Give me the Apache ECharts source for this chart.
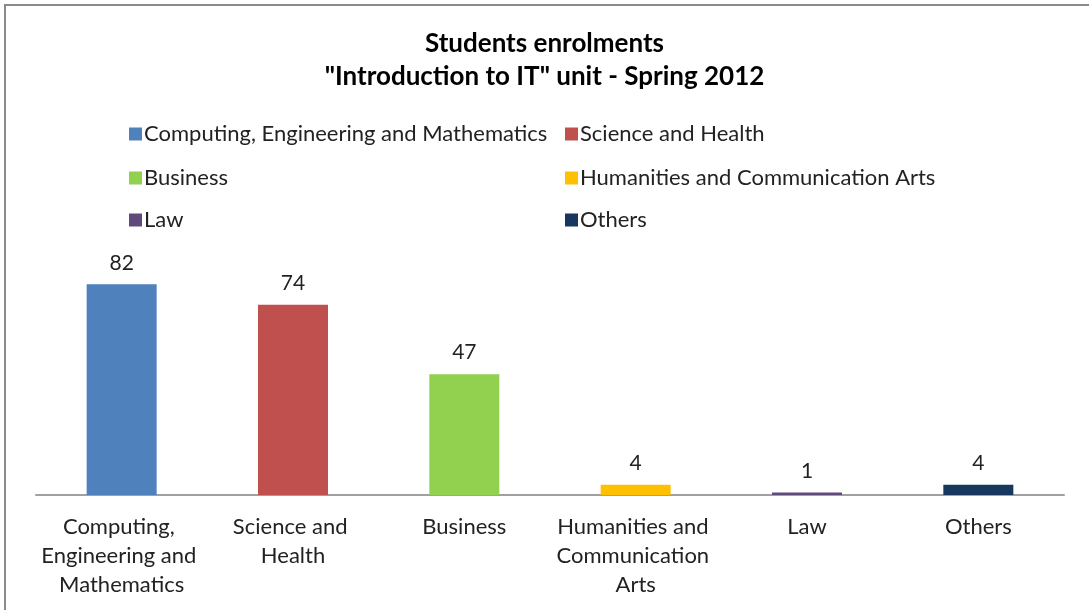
<!DOCTYPE html>
<html><head><meta charset="utf-8">
<script src="https://cdn.jsdelivr.net/npm/echarts@6/dist/echarts.min.js"></script>
<style>html,body{margin:0;padding:0;background:#fff}#c{width:1089px;height:610px}</style>
</head><body><div id="c"></div>
<script>
const categories = ["Computing, Engineering and Mathematics", "Science and Health", "Business", "Humanities and Communication Arts", "Law", "Others"];
const values = [82, 74, 47, 4, 1, 4];
const colors = ["#4F81BD", "#C0504D", "#92D050", "#FFC000", "#604A7B", "#17375E"];
const titleLines = ["Students enrolments", "\"Introduction to IT\" unit - Spring 2012"];

const FONT = "Lato";
const legendPos = [[124,118],[560,118],[124,162],[560,162],[124,204],[560,204]];

const series = categories.map((name, i) => ({
  name: name,
  type: 'bar',
  stack: 'all',
  barWidth: 70,
  itemStyle: { color: colors[i] },
  label: { show: true, position: 'top', distance: 11, color: '#222', fontFamily: FONT, fontSize: 21 },
  data: categories.map((c, j) => j === i ? values[i] : null)
}));

const legends = categories.map((name, i) => ({
  data: [name],
  left: legendPos[i][0],
  top: legendPos[i][1],
  icon: 'rect',
  itemWidth: 13,
  itemHeight: 13,
  itemGap: 4,
  selectedMode: false,
  textStyle: { fontFamily: FONT, fontSize: 22, color: '#222', padding: [0,0,0,-3] }
}));

const chart = echarts.init(document.getElementById('c'));
chart.setOption({
  animation: false,
  title: {
    text: titleLines.join('\n'),
    left: 'center',
    top: 22,
    textStyle: { fontFamily: FONT, fontSize: 26, fontWeight: 'bold', color: '#000', lineHeight: 33 }
  },
  graphic: [{
    type: 'rect', shape: { x: 5, y: 5, width: 1200, height: 700 },
    style: { fill: 'none', stroke: '#8a8a8a', lineWidth: 2 }, silent: true
  }],
  legend: legends,
  grid: { left: 36, right: 25, top: 238, bottom: 115 },
  xAxis: {
    type: 'category',
    data: categories,
    axisLine: { lineStyle: { color: '#a0a0a0', width: 2 } },
    axisTick: { show: false },
    axisLabel: { fontFamily: FONT, fontSize: 22, color: '#222', margin: 17, lineHeight: 29, width: 168, overflow: 'break', interval: 0 }
  },
  yAxis: { type: 'value', min: 0, max: 100, show: false, splitLine: { show: false } },
  series: series
});
</script></body></html>
